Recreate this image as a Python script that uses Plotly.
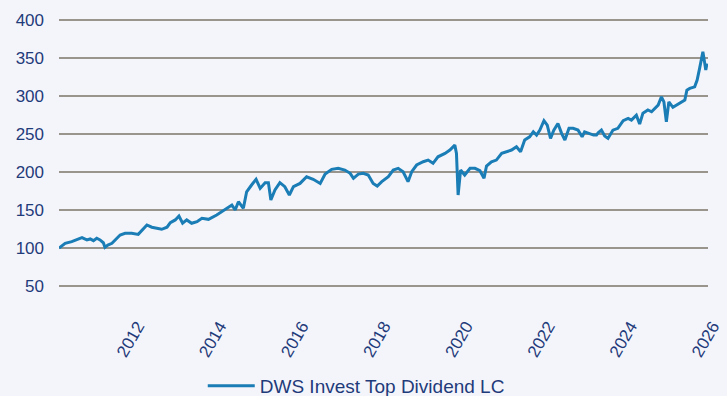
import pandas as pd
import plotly.graph_objects as go

# Fund performance, indexed to 100 at launch of the series (decimal year, index level)
obs_year = [
    2010.50, 2010.65, 2010.81, 2010.94, 2011.06, 2011.18, 2011.26, 2011.34, 2011.42, 2011.50,
    2011.58, 2011.62, 2011.69, 2011.79, 2011.87, 2011.99, 2012.11, 2012.27, 2012.43, 2012.53,
    2012.64, 2012.76, 2012.88, 2013.00, 2013.13, 2013.21, 2013.33, 2013.42, 2013.51, 2013.61,
    2013.73, 2013.86, 2013.98, 2014.14, 2014.34, 2014.54, 2014.71, 2014.79, 2014.87, 2014.99,
    2015.07, 2015.19, 2015.30, 2015.40, 2015.52, 2015.60, 2015.66, 2015.76, 2015.88, 2016.00,
    2016.11, 2016.21, 2016.37, 2016.53, 2016.69, 2016.86, 2016.98, 2017.14, 2017.30, 2017.46,
    2017.59, 2017.67, 2017.79, 2017.91, 2018.03, 2018.15, 2018.25, 2018.36, 2018.52, 2018.64,
    2018.76, 2018.88, 2019.00, 2019.09, 2019.21, 2019.37, 2019.49, 2019.61, 2019.73, 2019.90,
    2020.02, 2020.14, 2020.18, 2020.22, 2020.28, 2020.38, 2020.51, 2020.63, 2020.75, 2020.85,
    2020.91, 2021.03, 2021.15, 2021.28, 2021.40, 2021.52, 2021.64, 2021.74, 2021.84, 2021.96,
    2022.05, 2022.13, 2022.21, 2022.31, 2022.39, 2022.47, 2022.55, 2022.65, 2022.74, 2022.82,
    2022.92, 2023.02, 2023.14, 2023.24, 2023.30, 2023.42, 2023.52, 2023.59, 2023.63, 2023.71,
    2023.79, 2023.87, 2023.99, 2024.11, 2024.24, 2024.36, 2024.44, 2024.56, 2024.64, 2024.72,
    2024.84, 2024.93, 2025.01, 2025.09, 2025.17, 2025.23, 2025.29, 2025.35, 2025.45, 2025.55,
    2025.66, 2025.74, 2025.79, 2025.86, 2025.98, 2026.04, 2026.10, 2026.14, 2026.18, 2026.22,
    2026.25, 2026.28,
]
index_level = [
    100.0, 106.3, 108.5, 110.7, 113.7, 110.7, 112.0, 109.7, 112.9, 110.7,
    107.0, 101.0, 104.0, 106.3, 110.7, 117.2, 119.4, 119.4, 118.0, 123.8,
    130.4, 127.4, 126.0, 124.7, 127.4, 133.4, 137.0, 142.2, 132.6, 137.0,
    132.6, 134.7, 139.2, 137.8, 143.5, 151.0, 156.6, 150.0, 161.0, 152.3,
    174.0, 182.9, 190.4, 178.5, 185.9, 186.0, 163.2, 176.3, 186.0, 180.7,
    169.8, 180.7, 185.0, 193.8, 190.4, 185.0, 197.3, 203.5, 204.8, 202.6,
    198.3, 191.7, 197.3, 198.3, 196.0, 185.0, 181.6, 187.3, 193.8, 202.6,
    204.8, 200.4, 187.3, 200.4, 209.2, 213.5, 215.7, 211.4, 220.0, 224.5,
    228.9, 235.4, 224.5, 169.8, 202.6, 196.0, 204.8, 204.8, 201.7, 191.7,
    207.9, 213.5, 215.7, 224.5, 226.6, 228.9, 233.2, 226.6, 242.0, 246.3,
    252.9, 248.6, 255.1, 267.4, 261.7, 244.2, 255.1, 263.9, 250.8, 242.0,
    257.4, 257.4, 255.1, 246.3, 252.9, 250.8, 248.6, 248.6, 251.6, 255.1,
    247.3, 244.2, 255.1, 257.4, 267.4, 270.5, 268.3, 274.8, 263.0, 277.4,
    281.6, 279.2, 283.6, 288.0, 298.9, 292.3, 266.0, 292.3, 285.0, 288.0,
    292.3, 294.5, 307.7, 309.9, 312.0, 320.8, 336.2, 347.0, 358.0, 344.8,
    334.0, 342.7,
]
tick_years = [2012, 2014, 2016, 2018, 2020, 2022, 2024, 2026]
y_ticks = [50, 100, 150, 200, 250, 300, 350, 400]
series_name = "DWS Invest Top Dividend LC"


def to_date(y):
    year = int(y)
    start = pd.Timestamp(year=year, month=1, day=1)
    end = pd.Timestamp(year=year + 1, month=1, day=1)
    return start + (end - start) * (y - year)


dates = [to_date(y) for y in obs_year]

NAVY = "#1f3b7a"
FONT = "Liberation Sans, Arial, sans-serif"

fig = go.Figure(
    go.Scatter(
        x=dates,
        y=index_level,
        mode="lines",
        name=series_name,
        line=dict(color="#1a7db5", width=3),
    )
)

fig.update_layout(
    width=727,
    height=396,
    margin=dict(l=59, r=19, t=18, b=108, autoexpand=False),
    paper_bgcolor="#f4f5fb",
    plot_bgcolor="#f4f5fb",
    font=dict(family=FONT, size=17, color=NAVY),
    showlegend=True,
    legend=dict(
        orientation="h",
        x=0.2215,
        xanchor="left",
        xref="paper",
        y=10 / 396,
        yanchor="middle",
        yref="container",
        bgcolor="rgba(0,0,0,0)",
        font=dict(family=FONT, size=19, color=NAVY),
        itemwidth=47,
    ),
)

fig.update_xaxes(
    type="date",
    range=[dates[0], dates[-1] + pd.Timedelta(days=9)],
    tickvals=[pd.Timestamp(year=y, month=1, day=1) for y in tick_years],
    ticktext=[str(y) for y in tick_years],
    tickangle=-60,
    showgrid=False,
    zeroline=False,
    showline=False,
    ticks="",
    ticklabelstandoff=24,
    ticklabelshift=17,
    automargin=False,
)

fig.update_yaxes(
    range=[47.5, 402.5],
    tickvals=y_ticks,
    showgrid=True,
    gridcolor="#99958d",
    gridwidth=1.5,
    zeroline=False,
    showline=False,
    ticks="",
    ticklabelstandoff=14,
    automargin=False,
)

fig.write_html("out.html")
